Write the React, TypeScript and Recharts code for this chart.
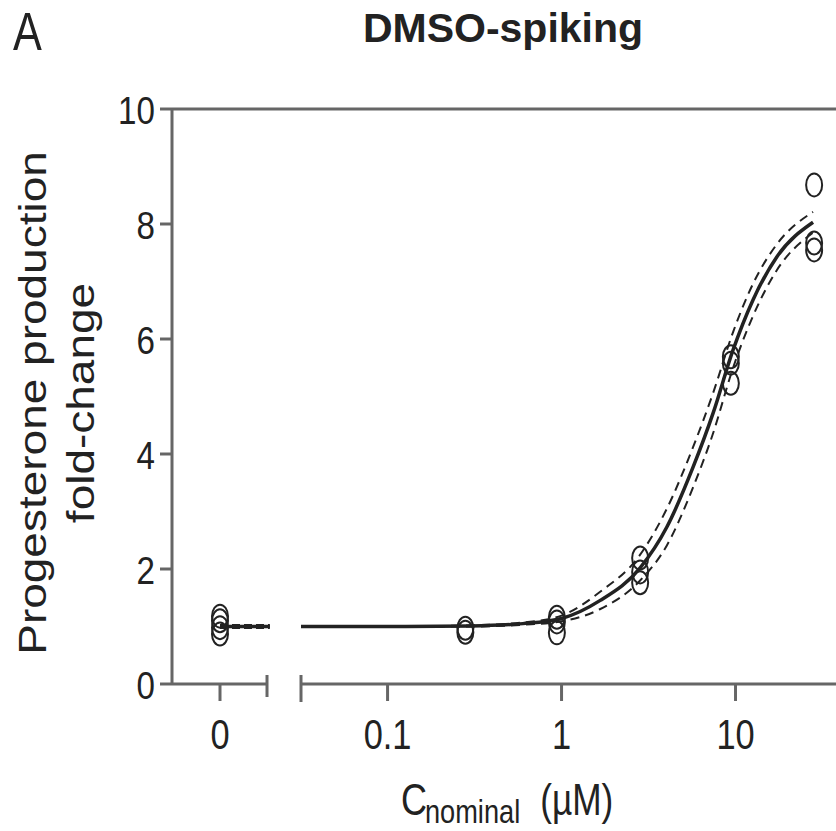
import React from 'react';
import { ComposedChart, Line, Scatter, XAxis, YAxis, ReferenceLine } from 'recharts';

const FONT = '"Liberation Sans", Arial, sans-serif';
const AXIS = '#666';
const INK = '#222';

// replicate measurements, fold-change vs. vehicle
const zeroReps = [1.18, 1.1, 0.98, 0.87];
const doses = [0.28, 0.94, 2.83, 9.4, 28.3];
const doseReps = [
  [0.97, 0.9],
  [1.16, 1.08, 0.89],
  [2.19, 1.95, 1.76],
  [5.69, 5.58, 5.23],
  [8.68, 7.67, 7.55],
];

// fitted curve + 95% band
const fitX = [0.0318, 0.1, 0.3, 0.6, 1, 1.66, 2.83, 4.03, 5.7, 7.43, 9.68, 12.6, 17.3, 27.9];
const fitY = [1.0, 1.0, 1.01, 1.05, 1.14, 1.45, 2.02, 2.73, 3.77, 4.71, 5.81, 6.68, 7.43, 8.03];
const upperY = [1.0, 1.0, 1.02, 1.07, 1.19, 1.6, 2.25, 3.05, 4.12, 5.06, 6.12, 6.96, 7.65, 8.21];
const lowerY = [1.0, 1.0, 1.0, 1.03, 1.09, 1.3, 1.8, 2.41, 3.42, 4.36, 5.5, 6.4, 7.2, 7.85];

const zeroFitX = [0, 1.06];
const zeroFitY = [1, 1];

const yTicks = [0, 2, 4, 6, 8, 10];
const logTicks = [0.1, 1, 10];
const logLabels = ['0.1', '1', '10'];

const X_MIN = 0.0318;
const X_MAX = 37.8;

const zeroData = zeroReps.map((y) => ({ x: 0, y }));
const doseData = doses.flatMap((d, i) => doseReps[i].map((y) => ({ x: d, y })));
const fitData = fitX.map((x, i) => ({ x, fit: fitY[i], upper: upperY[i], lower: lowerY[i] }));
const zeroFit = zeroFitX.map((x, i) => ({ x, fit: zeroFitY[i] }));

const Ring = (props: any) => (
  <ellipse cx={props.cx} cy={props.cy} rx={8} ry={11.5} fill="none" stroke={INK} strokeWidth={2} />
);

const YTick = ({ x, y, payload }: any) => (
  <text transform={`translate(${x},${y + 15}) scale(0.85,1)`} textAnchor="end" fontSize={39} fill={INK} fontFamily={FONT}>
    {payload.value}
  </text>
);

const ZeroTick = ({ x, y, payload }: any) => {
  if (payload.value !== 0) {
    return <line x1={x} x2={x} y1={y - 9} y2={y + 13} stroke={AXIS} strokeWidth={3} />;
  }
  return (
    <g>
      <line x1={x} x2={x} y1={y} y2={y + 17} stroke={AXIS} strokeWidth={3} />
      <text transform={`translate(${x},${y + 65}) scale(0.8,1)`} textAnchor="middle" fontSize={43} fill={INK} fontFamily={FONT}>
        0
      </text>
    </g>
  );
};

const LogTick = ({ x, y, payload }: any) => {
  if (payload.value < 0.05) {
    return <line x1={x} x2={x} y1={y - 9} y2={y + 18} stroke={AXIS} strokeWidth={3} />;
  }
  const i = logTicks.indexOf(payload.value);
  return (
    <g>
      <line x1={x} x2={x} y1={y} y2={y + 17} stroke={AXIS} strokeWidth={3} />
      <text transform={`translate(${x},${y + 65}) scale(0.8,1)`} textAnchor="middle" fontSize={43} fill={INK} fontFamily={FONT}>
        {logLabels[i] ?? payload.value}
      </text>
    </g>
  );
};

export default function App() {
  return (
    <div style={{ position: 'absolute', left: 0, top: 0, width: 836, height: 831, background: '#fff' }}>
      <div style={{ position: 'absolute', left: 0, top: 0 }}>
        <ComposedChart width={301} height={831} margin={{ top: 109, right: 0, bottom: 87, left: 0 }}>
          <XAxis
            xAxisId="z"
            dataKey="x"
            type="number"
            domain={[-1.021, 1.723]}
            allowDataOverflow
            ticks={[0, 1]}
            interval={0}
            height={60}
            axisLine={false}
            tickLine={false}
            tickSize={0}
            tickMargin={0}
            tick={<ZeroTick />}
          />
          <YAxis
            domain={[0, 10]}
            ticks={yTicks}
            interval={0}
            width={172}
            axisLine={{ stroke: AXIS, strokeWidth: 3 }}
            tickLine={{ stroke: AXIS, strokeWidth: 3 }}
            tickSize={12}
            tickMargin={5}
            tick={<YTick />}
          />
          <ReferenceLine xAxisId="z" y={10} stroke={AXIS} strokeWidth={3} />
          <ReferenceLine
            xAxisId="z"
            segment={[{ x: -1.021, y: 0 }, { x: 1, y: 0 }]}
            stroke={AXIS}
            strokeWidth={3}
            ifOverflow="visible"
          />
          <Line xAxisId="z" data={zeroFit} dataKey="fit" stroke={INK} strokeWidth={3.5} dot={false} isAnimationActive={false} />
          <Line xAxisId="z" data={zeroFit} dataKey="fit" stroke={INK} strokeWidth={5} strokeDasharray="8 4" dot={false} isAnimationActive={false} />
          <Scatter xAxisId="z" data={zeroData} dataKey="y" shape={Ring} isAnimationActive={false} />
        </ComposedChart>
      </div>
      <div style={{ position: 'absolute', left: 0, top: 0 }}>
        <ComposedChart width={836} height={831} margin={{ top: 109, right: 0, bottom: 87, left: 301 }}>
          <XAxis
            dataKey="x"
            type="number"
            scale="log"
            domain={[X_MIN, X_MAX]}
            allowDataOverflow
            ticks={[X_MIN, ...logTicks]}
            interval={0}
            height={60}
            axisLine={{ stroke: AXIS, strokeWidth: 3 }}
            tickLine={false}
            tickSize={0}
            tickMargin={0}
            tick={<LogTick />}
          />
          <YAxis domain={[0, 10]} hide />
          <ReferenceLine y={10} stroke={AXIS} strokeWidth={3} />
          <Line data={fitData} dataKey="upper" type="monotone" stroke={INK} strokeWidth={2} strokeDasharray="9 6" dot={false} isAnimationActive={false} />
          <Line data={fitData} dataKey="lower" type="monotone" stroke={INK} strokeWidth={2} strokeDasharray="9 6" dot={false} isAnimationActive={false} />
          <Line data={fitData} dataKey="fit" type="monotone" stroke={INK} strokeWidth={3.5} dot={false} isAnimationActive={false} />
          <Scatter data={doseData} dataKey="y" shape={Ring} isAnimationActive={false} />

          <text transform="translate(13,50) scale(0.8,1)" fontSize={54} fill={INK} fontFamily={FONT}>A</text>
          <text x={503} y={42} textAnchor="middle" fontSize={41} fontWeight="bold" fill={INK} fontFamily={FONT}>
            DMSO-spiking
          </text>
          <text transform="translate(46,403) rotate(-90) scale(1,0.85)" textAnchor="middle" fontSize={46} fill={INK} fontFamily={FONT}>
            Progesterone production
          </text>
          <text transform="translate(94,403) rotate(-90) scale(1,0.85)" textAnchor="middle" fontSize={46} fill={INK} fontFamily={FONT}>
            fold-change
          </text>
          <g transform="translate(401,0) scale(0.8,1)">
            <text x={0} y={815} fontSize={45} fill={INK} fontFamily={FONT}>C</text>
            <text x={30} y={823} fontSize={34} fill={INK} fontFamily={FONT}>nominal</text>
            <text x={174} y={815} fontSize={44} fill={INK} fontFamily={FONT}>(µM)</text>
          </g>
        </ComposedChart>
      </div>
    </div>
  );
}
